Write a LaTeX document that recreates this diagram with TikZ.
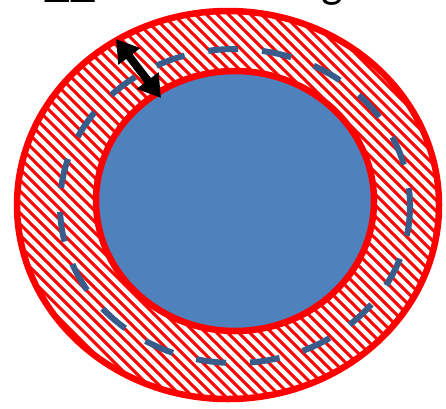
\documentclass[tikz,border=0pt]{standalone}
\usepackage{fontspec}
\setmainfont{Carlito}
\usetikzlibrary{arrows.meta}
\definecolor{ringred}{RGB}{255,0,0}
\definecolor{diskblue}{RGB}{79,129,189}
\definecolor{dashblue}{RGB}{56,93,138}
\tikzset{
  hatchline/.style={ringred, line width=3.1pt},
  redrim/.style={draw=ringred, line width=6.5pt},
  midline/.style={draw=dashblue, line width=6pt, dash pattern=on 30pt off 24pt},
  gaparrow/.style={{Triangle[length=22pt,width=26pt]}-{Triangle[length=22pt,width=26pt]}, line width=8pt, black}
}
\begin{document}
\begin{tikzpicture}[x=1pt,y=-1pt]
\useasboundingbox (0,0) rectangle (446,408);
% clipped title text
\begin{scope}
  \clip (0,0) rectangle (446,10);
  \node[anchor=base west, inner sep=0pt, font=\fontsize{46}{50}\selectfont] (title) at (44,-3) {\raisebox{-5pt}{\textbf{Δ}Δ}\ \ \ oooooooog};
\end{scope}
% outer area white + hatch
\coordinate (c) at (228,205);
\fill[white] (c) ellipse [x radius=211, y radius=194];
\begin{scope}
  \clip (c) ellipse [x radius=211, y radius=194];
  \foreach \k in {-440,-429,...,460} {
    \draw[hatchline] (\k,-5) -- (\k+420,415);
  }
\end{scope}
% inner disk
\coordinate (ci) at (235,201);
\fill[diskblue] (ci) ellipse [x radius=139, y radius=130];
% dashed midline
\coordinate (cm) at (235,206);
\draw[midline] (cm) ellipse [x radius=175, y radius=157];
% rims
\draw[redrim] (c) ellipse [x radius=211, y radius=194];
\draw[redrim] (ci) ellipse [x radius=139, y radius=130];
% arrow
\coordinate (a1) at (116,39);
\coordinate (a2) at (161,98);
\draw[gaparrow] (a1) -- (a2);
\end{tikzpicture}
\end{document}
